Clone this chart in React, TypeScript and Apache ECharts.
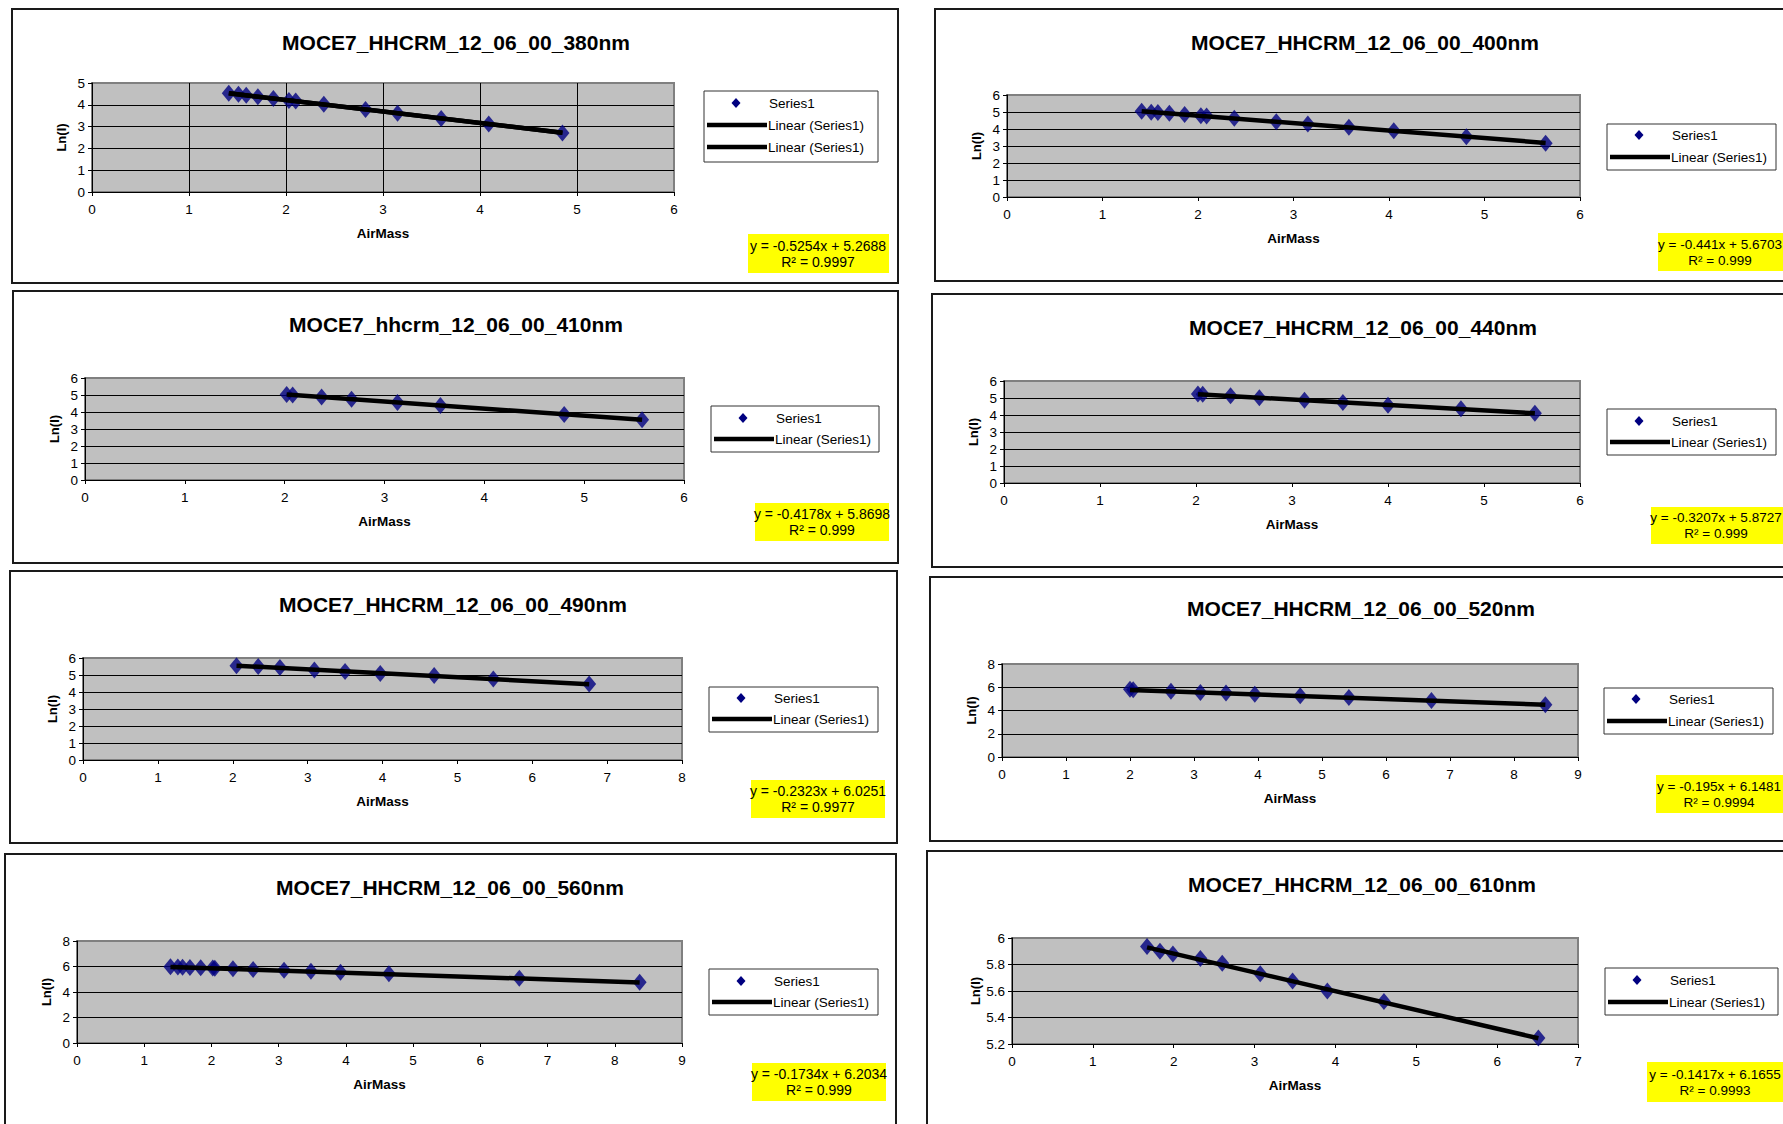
import React, { useEffect, useRef } from "react";
import * as echarts from "echarts";

// ---------- data ----------
const titles = [
  "MOCE7_HHCRM_12_06_00_380nm",
  "MOCE7_HHCRM_12_06_00_400nm",
  "MOCE7_hhcrm_12_06_00_410nm",
  "MOCE7_HHCRM_12_06_00_440nm",
  "MOCE7_HHCRM_12_06_00_490nm",
  "MOCE7_HHCRM_12_06_00_520nm",
  "MOCE7_HHCRM_12_06_00_560nm",
  "MOCE7_HHCRM_12_06_00_610nm",
];

const airMass380 = [1.41, 1.51, 1.59, 1.71, 1.87, 2.03, 2.1, 2.39, 2.82, 3.15, 3.6, 4.09, 4.85];
const lnI380 = [4.53, 4.48, 4.44, 4.37, 4.29, 4.2, 4.17, 4.02, 3.78, 3.61, 3.37, 3.12, 2.71];

const airMass400 = [1.41, 1.51, 1.58, 1.7, 1.86, 2.03, 2.09, 2.38, 2.82, 3.15, 3.58, 4.05, 4.81, 5.64];
const lnI400 = [5.05, 4.99, 4.97, 4.92, 4.86, 4.78, 4.76, 4.63, 4.43, 4.29, 4.11, 3.89, 3.55, 3.16];

const airMass410 = [2.02, 2.08, 2.37, 2.67, 3.13, 3.56, 4.8, 5.58];
const lnI410 = [5.03, 5.0, 4.88, 4.75, 4.56, 4.38, 3.86, 3.54];

const airMass440 = [2.02, 2.07, 2.36, 2.66, 3.13, 3.53, 4.0, 4.76, 5.53];
const lnI440 = [5.23, 5.22, 5.13, 5.01, 4.87, 4.74, 4.57, 4.37, 4.11];

const airMass490 = [2.05, 2.34, 2.63, 3.09, 3.5, 3.97, 4.69, 5.48, 6.76];
const lnI490 = [5.55, 5.5, 5.44, 5.3, 5.2, 5.09, 4.97, 4.76, 4.47];

const airMass520 = [2.0, 2.05, 2.64, 3.1, 3.5, 3.95, 4.66, 5.42, 6.71, 8.49];
const lnI520 = [5.82, 5.78, 5.66, 5.55, 5.5, 5.4, 5.26, 5.11, 4.87, 4.5];

const airMass560 = [1.39, 1.5, 1.57, 1.68, 1.84, 2.02, 2.05, 2.32, 2.62, 3.08, 3.48, 3.92, 4.64, 6.58, 8.37];
const lnI560 = [5.98, 5.96, 5.95, 5.93, 5.9, 5.88, 5.86, 5.82, 5.77, 5.7, 5.62, 5.55, 5.44, 5.08, 4.77];

const airMass610 = [1.67, 1.83, 1.99, 2.33, 2.6, 3.07, 3.47, 3.9, 4.6, 6.51];
const lnI610 = [5.935, 5.9, 5.88, 5.845, 5.81, 5.73, 5.675, 5.6, 5.52, 5.245];

const airMassSets = [airMass380, airMass400, airMass410, airMass440, airMass490, airMass520, airMass560, airMass610];
const lnISets = [lnI380, lnI400, lnI410, lnI440, lnI490, lnI520, lnI560, lnI610];

const slopes = [-0.5254, -0.441, -0.4178, -0.3207, -0.2323, -0.195, -0.1734, -0.1417];
const intercepts = [5.2688, 5.6703, 5.8698, 5.8727, 6.0251, 6.1481, 6.2034, 6.1655];
const r2Labels = ["0.9997", "0.999", "0.999", "0.999", "0.9977", "0.9994", "0.999", "0.9993"];

const xMaxs = [6, 6, 6, 6, 8, 9, 9, 7];
const yMins = [0, 0, 0, 0, 0, 0, 0, 5.2];
const yMaxs = [5, 6, 6, 6, 6, 8, 8, 6];
const yIntervals = [1, 1, 1, 1, 1, 2, 2, 0.2];
const trendCounts = [2, 1, 1, 1, 1, 1, 1, 1];

const seriesName = "Series1";
const trendName = "Linear (Series1)";
const xName = "AirMass";
const yName = "Ln(I)";

// ---------- layout (pixels) ----------
type Layout = {
  box: number[];
  title: number[];
  grid: number[];
  legend: number[];
  rows: number[];
  eq: number[];
  eqCx: number;
  eqFont: number;
  vGrid: boolean;
};

const layouts: Layout[] = [
  { box: [12, 9, 898, 283], title: [456, 42], grid: [92, 83, 674, 192], legend: [704, 91, 878, 162], rows: [103, 125, 147], eq: [748, 234, 889, 273], eqCx: 818, eqFont: 14, vGrid: true },
  { box: [935, 9, 1800, 281], title: [1365, 42], grid: [1007, 95, 1580, 197], legend: [1607, 124, 1776, 170], rows: [135, 157], eq: [1658, 233, 1800, 271], eqCx: 1720, eqFont: 13.5, vGrid: false },
  { box: [13, 291, 898, 563], title: [456, 324], grid: [85, 378, 684, 480], legend: [711, 406, 879, 452], rows: [418, 439], eq: [755, 503, 889, 541], eqCx: 822, eqFont: 14, vGrid: false },
  { box: [932, 294, 1800, 567], title: [1363, 327], grid: [1004, 381, 1580, 483], legend: [1607, 409, 1776, 455], rows: [421, 442], eq: [1651, 507, 1800, 544], eqCx: 1716, eqFont: 13.5, vGrid: false },
  { box: [10, 571, 897, 843], title: [453, 604], grid: [83, 658, 682, 760], legend: [709, 687, 878, 732], rows: [698, 719], eq: [751, 780, 885, 818], eqCx: 818, eqFont: 14, vGrid: false },
  { box: [930, 577, 1800, 841], title: [1361, 608], grid: [1002, 664, 1578, 757], legend: [1604, 688, 1773, 734], rows: [699, 721], eq: [1656, 775, 1800, 813], eqCx: 1719, eqFont: 13.5, vGrid: false },
  { box: [5, 854, 896, 1140], title: [450, 887], grid: [77, 941, 682, 1043], legend: [709, 969, 878, 1015], rows: [981, 1002], eq: [752, 1063, 886, 1101], eqCx: 819, eqFont: 14, vGrid: false },
  { box: [927, 851, 1800, 1140], title: [1362, 884], grid: [1012, 938, 1578, 1044], legend: [1605, 968, 1778, 1015], rows: [980, 1002], eq: [1647, 1062, 1800, 1102], eqCx: 1715, eqFont: 13.5, vGrid: false },
];

const FONT = '"Liberation Sans", Arial, sans-serif';
const NAVY = "#000080";

function text(x: number, y: number, t: string, size: number, bold: boolean, align: string) {
  return {
    type: "text",
    z: 10,
    style: {
      x,
      y,
      text: t,
      fontSize: size,
      fontWeight: bold ? "bold" : "normal",
      fontFamily: FONT,
      fill: "#000",
      align,
      verticalAlign: "middle",
      textAlign: align,
      textVerticalAlign: "middle",
    },
  };
}

function buildOption() {
  const grid: any[] = [];
  const xAxis: any[] = [];
  const yAxis: any[] = [];
  const series: any[] = [];
  const graphic: any[] = [];

  layouts.forEach((L, i) => {
    const [gx1, gy1, gx2, gy2] = L.grid;
    grid.push({
      left: gx1,
      top: gy1,
      width: gx2 - gx1,
      height: gy2 - gy1,
      show: true,
      backgroundColor: "#C0C0C0",
      borderColor: "#808080",
      borderWidth: 2,
      containLabel: false,
    });
    xAxis.push({
      gridIndex: i,
      type: "value",
      min: 0,
      max: xMaxs[i],
      interval: 1,
      name: xName,
      nameLocation: "middle",
      nameGap: 34,
      nameTextStyle: { fontFamily: FONT, fontSize: 13.5, fontWeight: "bold", color: "#000" },
      axisLine: { show: true, onZero: false, lineStyle: { color: "#000", width: 1 } },
      axisTick: { show: true, length: 4, lineStyle: { color: "#000" } },
      axisLabel: { fontFamily: FONT, fontSize: 13.5, color: "#000", margin: 10 },
      splitLine: {
        show: L.vGrid,
        showMinLine: false,
        showMaxLine: false,
        lineStyle: { color: "#000", width: 1 },
      },
    });
    yAxis.push({
      gridIndex: i,
      type: "value",
      min: yMins[i],
      max: yMaxs[i],
      interval: yIntervals[i],
      name: yName,
      nameLocation: "middle",
      nameGap: 24,
      nameRotate: 90,
      nameTextStyle: { fontFamily: FONT, fontSize: 13, fontWeight: "bold", color: "#000" },
      axisLine: { show: true, onZero: false, lineStyle: { color: "#000", width: 1 } },
      axisTick: { show: true, length: 4, lineStyle: { color: "#000" } },
      axisLabel: { fontFamily: FONT, fontSize: 13.5, color: "#000", margin: 7 },
      splitLine: {
        show: true,
        showMinLine: false,
        showMaxLine: false,
        lineStyle: { color: "#000", width: 1 },
      },
    });

    const xs = airMassSets[i];
    const ys = lnISets[i];
    series.push({
      type: "scatter",
      name: seriesName,
      xAxisIndex: i,
      yAxisIndex: i,
      symbol: "diamond",
      symbolSize: [14, 17],
      itemStyle: { color: NAVY },
      data: xs.map((x, k) => [x, ys[k]]),
      z: 3,
    });
    const xLo = Math.min(...xs);
    const xHi = Math.max(...xs);
    for (let t = 0; t < trendCounts[i]; t++) {
      series.push({
        type: "line",
        name: trendName,
        xAxisIndex: i,
        yAxisIndex: i,
        showSymbol: false,
        symbol: "none",
        lineStyle: { color: "#000", width: 4.5 },
        data: [
          [xLo, slopes[i] * xLo + intercepts[i]],
          [xHi, slopes[i] * xHi + intercepts[i]],
        ],
        z: 4,
      });
    }

    // panel border
    const [bx1, by1, bx2, by2] = L.box;
    graphic.push({
      type: "rect",
      z: 1,
      shape: { x: bx1, y: by1, width: bx2 - bx1, height: by2 - by1 },
      style: { fill: "none", stroke: "#1a1a1a", lineWidth: 2 },
    });
    // title
    graphic.push(text(L.title[0], L.title[1], titles[i], 21, true, "center"));

    // legend
    const [lx1, ly1, lx2, ly2] = L.legend;
    graphic.push({
      type: "rect",
      z: 5,
      shape: { x: lx1, y: ly1, width: lx2 - lx1, height: ly2 - ly1 },
      style: { fill: "#fff", stroke: "#333", lineWidth: 1 },
    });
    L.rows.forEach((ry, r) => {
      if (r === 0) {
        const cx = lx1 + 32;
        graphic.push({
          type: "polygon",
          z: 10,
          shape: { points: [[cx, ry - 5], [cx + 4.5, ry], [cx, ry + 5], [cx - 4.5, ry]] },
          style: { fill: NAVY },
        });
        graphic.push(text(lx1 + 65, ry, seriesName, 13.5, false, "left"));
      } else {
        graphic.push({
          type: "line",
          z: 10,
          shape: { x1: lx1 + 3, y1: ry, x2: lx1 + 63, y2: ry },
          style: { stroke: "#000", lineWidth: 4.5 },
        });
        graphic.push(text(lx1 + 64, ry, trendName, 13.5, false, "left"));
      }
    });

    // equation box
    const [ex1, ey1, ex2, ey2] = L.eq;
    graphic.push({
      type: "rect",
      z: 5,
      shape: { x: ex1, y: ey1, width: ex2 - ex1, height: ey2 - ey1 },
      style: { fill: "#FFFF00" },
    });
    const ecy = (ey1 + ey2) / 2;
    graphic.push(text(L.eqCx, ecy - 8, `y = ${slopes[i]}x + ${intercepts[i]}`, L.eqFont, false, "center"));
    graphic.push(text(L.eqCx, ecy + 8, `R\u00B2 = ${r2Labels[i]}`, L.eqFont, false, "center"));
  });

  return {
    animation: false,
    backgroundColor: "#ffffff",
    textStyle: { fontFamily: FONT },
    grid,
    xAxis,
    yAxis,
    series,
    graphic: { elements: graphic },
  };
}

export default function App() {
  const ref = useRef<HTMLDivElement>(null);
  useEffect(() => {
    if (!ref.current) return;
    const chart = echarts.init(ref.current, null, { renderer: "svg" });
    chart.setOption(buildOption() as any);
    return () => {
      chart.dispose();
    };
  }, []);
  return (
    <div
      ref={ref}
      style={{ position: "fixed", left: 0, top: 0, width: 1783, height: 1124, background: "#fff" }}
    />
  );
}
